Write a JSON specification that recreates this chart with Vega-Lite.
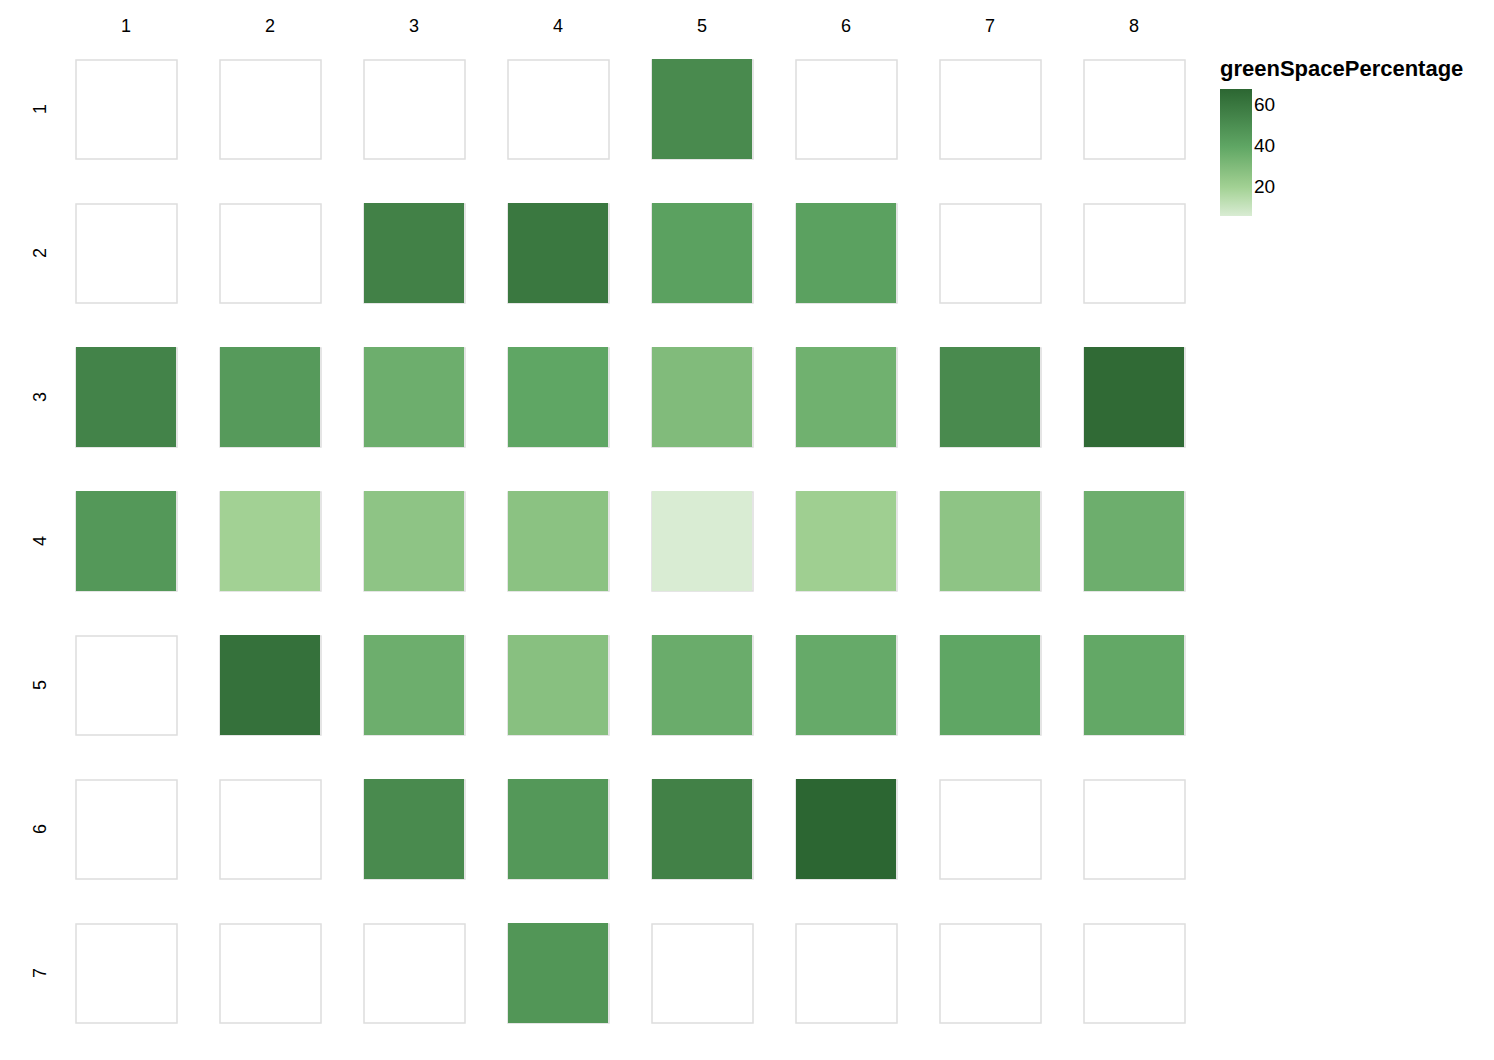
{
  "$schema": "https://vega.github.io/schema/vega-lite/v6.json",
  "padding": {"left": 32, "top": 18, "right": 5, "bottom": 5},
  "data": {"values": [
    {"row":1,"col":1,"greenSpacePercentage":null},{"row":1,"col":2,"greenSpacePercentage":null},{"row":1,"col":3,"greenSpacePercentage":null},{"row":1,"col":4,"greenSpacePercentage":null},{"row":1,"col":5,"greenSpacePercentage":52},{"row":1,"col":6,"greenSpacePercentage":null},{"row":1,"col":7,"greenSpacePercentage":null},{"row":1,"col":8,"greenSpacePercentage":null},
    {"row":2,"col":1,"greenSpacePercentage":null},{"row":2,"col":2,"greenSpacePercentage":null},{"row":2,"col":3,"greenSpacePercentage":56},{"row":2,"col":4,"greenSpacePercentage":60},{"row":2,"col":5,"greenSpacePercentage":42},{"row":2,"col":6,"greenSpacePercentage":42},{"row":2,"col":7,"greenSpacePercentage":null},{"row":2,"col":8,"greenSpacePercentage":null},
    {"row":3,"col":1,"greenSpacePercentage":55},{"row":3,"col":2,"greenSpacePercentage":45},{"row":3,"col":3,"greenSpacePercentage":36},{"row":3,"col":4,"greenSpacePercentage":40},{"row":3,"col":5,"greenSpacePercentage":30},{"row":3,"col":6,"greenSpacePercentage":35},{"row":3,"col":7,"greenSpacePercentage":52},{"row":3,"col":8,"greenSpacePercentage":66},
    {"row":4,"col":1,"greenSpacePercentage":46},{"row":4,"col":2,"greenSpacePercentage":20},{"row":4,"col":3,"greenSpacePercentage":26},{"row":4,"col":4,"greenSpacePercentage":27},{"row":4,"col":5,"greenSpacePercentage":6},{"row":4,"col":6,"greenSpacePercentage":21},{"row":4,"col":7,"greenSpacePercentage":26},{"row":4,"col":8,"greenSpacePercentage":36},
    {"row":5,"col":1,"greenSpacePercentage":null},{"row":5,"col":2,"greenSpacePercentage":63},{"row":5,"col":3,"greenSpacePercentage":36},{"row":5,"col":4,"greenSpacePercentage":28},{"row":5,"col":5,"greenSpacePercentage":37},{"row":5,"col":6,"greenSpacePercentage":38},{"row":5,"col":7,"greenSpacePercentage":40},{"row":5,"col":8,"greenSpacePercentage":39},
    {"row":6,"col":1,"greenSpacePercentage":null},{"row":6,"col":2,"greenSpacePercentage":null},{"row":6,"col":3,"greenSpacePercentage":52},{"row":6,"col":4,"greenSpacePercentage":46},{"row":6,"col":5,"greenSpacePercentage":56},{"row":6,"col":6,"greenSpacePercentage":68},{"row":6,"col":7,"greenSpacePercentage":null},{"row":6,"col":8,"greenSpacePercentage":null},
    {"row":7,"col":1,"greenSpacePercentage":null},{"row":7,"col":2,"greenSpacePercentage":null},{"row":7,"col":3,"greenSpacePercentage":null},{"row":7,"col":4,"greenSpacePercentage":47},{"row":7,"col":5,"greenSpacePercentage":null},{"row":7,"col":6,"greenSpacePercentage":null},{"row":7,"col":7,"greenSpacePercentage":null},{"row":7,"col":8,"greenSpacePercentage":null}
  ]},
  "facet": {
    "row": {"field": "row", "type": "ordinal", "title": null, "header": {"labelFontSize": 18, "labelPadding": 25, "labelFont": "Liberation Sans"}},
    "column": {"field": "col", "type": "ordinal", "title": null, "header": {"labelFontSize": 18, "labelPadding": 23, "labelFont": "Liberation Sans"}}
  },
  "spacing": {"row": 43, "column": 41},
  "spec": {
    "width": 100,
    "height": 100,
    "layer": [
      {
        "mark": {"type": "rect", "fill": "white", "stroke": "#dddddd", "strokeWidth": 1.5, "xOffset": 1, "yOffset": 1},
        "encoding": {}
      },
      {
        "transform": [{"filter": "datum.greenSpacePercentage != null"}],
        "mark": {"type": "rect"},
        "encoding": {
          "color": {
            "field": "greenSpacePercentage",
            "type": "quantitative",
            "scale": {"domain": [6, 20, 40, 68], "range": ["#d9ecd3", "#a2d194", "#5fa664", "#2c6632"]},
            "legend": {"gradientLength": 127, "gradientThickness": 32, "titleFontSize": 22, "titleLimit": 400, "titlePadding": 8, "labelFontSize": 19, "offset": 34, "values": [20, 40, 60]}
          }
        }
      }
    ]
  },
  "config": {
    "font": "Liberation Sans",
    "view": {"stroke": null}
  }
}
